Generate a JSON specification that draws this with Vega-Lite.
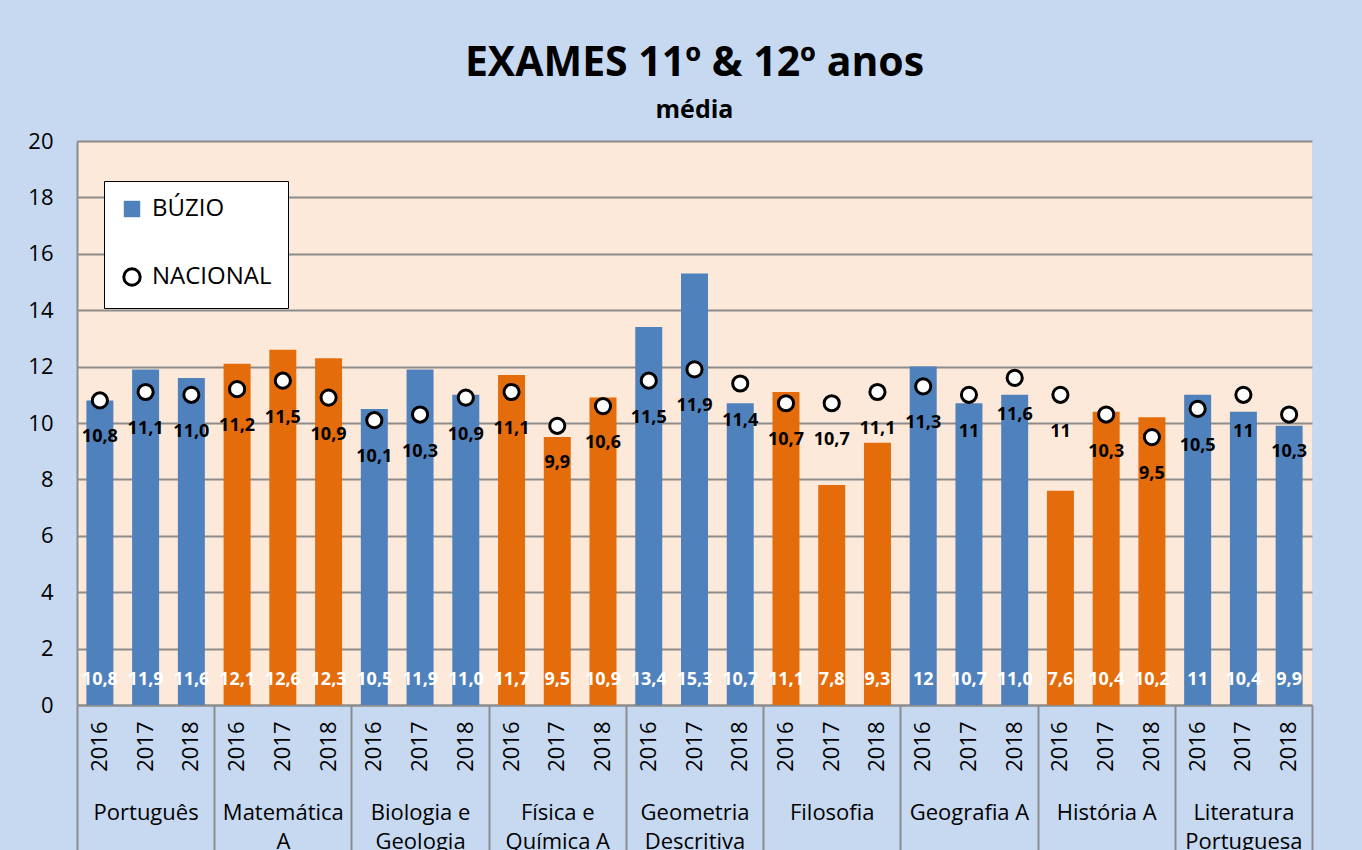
{
  "$schema": "https://vega.github.io/schema/vega-lite/v6.json",
  "width": 1235,
  "height": 564,
  "autosize": {"type": "none"},
  "padding": {"left": 77, "top": 141, "right": 50, "bottom": 145},
  "background": "#C6D9F1",
  "config": {
    "font": "Open Sans",
    "view": {"fill": "#FDE9D9", "stroke": null}
  },
  "title": {
    "text": "EXAMES 11º & 12º anos",
    "subtitle": "média",
    "fontSize": 41,
    "fontWeight": "bold",
    "color": "#000000",
    "subtitleFontSize": 25,
    "subtitleFontWeight": "bold",
    "subtitleColor": "#000000",
    "subtitlePadding": 13,
    "anchor": "middle",
    "frame": "group",
    "offset": 6
  },
  "data": {
    "values": [
      {"subject": "Português", "key": "Português 2016", "buzio": 10.8, "nacional": 10.8, "bl": "10,8", "nl": "10,8"},
      {"subject": "Português", "key": "Português 2017", "buzio": 11.9, "nacional": 11.1, "bl": "11,9", "nl": "11,1"},
      {"subject": "Português", "key": "Português 2018", "buzio": 11.6, "nacional": 11.0, "bl": "11,6", "nl": "11,0"},
      {"subject": "Matemática A", "key": "Matemática A 2016", "buzio": 12.1, "nacional": 11.2, "bl": "12,1", "nl": "11,2"},
      {"subject": "Matemática A", "key": "Matemática A 2017", "buzio": 12.6, "nacional": 11.5, "bl": "12,6", "nl": "11,5"},
      {"subject": "Matemática A", "key": "Matemática A 2018", "buzio": 12.3, "nacional": 10.9, "bl": "12,3", "nl": "10,9"},
      {"subject": "Biologia e Geologia", "key": "Biologia e Geologia 2016", "buzio": 10.5, "nacional": 10.1, "bl": "10,5", "nl": "10,1"},
      {"subject": "Biologia e Geologia", "key": "Biologia e Geologia 2017", "buzio": 11.9, "nacional": 10.3, "bl": "11,9", "nl": "10,3"},
      {"subject": "Biologia e Geologia", "key": "Biologia e Geologia 2018", "buzio": 11.0, "nacional": 10.9, "bl": "11,0", "nl": "10,9"},
      {"subject": "Física e Química A", "key": "Física e Química A 2016", "buzio": 11.7, "nacional": 11.1, "bl": "11,7", "nl": "11,1"},
      {"subject": "Física e Química A", "key": "Física e Química A 2017", "buzio": 9.5, "nacional": 9.9, "bl": "9,5", "nl": "9,9"},
      {"subject": "Física e Química A", "key": "Física e Química A 2018", "buzio": 10.9, "nacional": 10.6, "bl": "10,9", "nl": "10,6"},
      {"subject": "Geometria Descritiva", "key": "Geometria Descritiva 2016", "buzio": 13.4, "nacional": 11.5, "bl": "13,4", "nl": "11,5"},
      {"subject": "Geometria Descritiva", "key": "Geometria Descritiva 2017", "buzio": 15.3, "nacional": 11.9, "bl": "15,3", "nl": "11,9"},
      {"subject": "Geometria Descritiva", "key": "Geometria Descritiva 2018", "buzio": 10.7, "nacional": 11.4, "bl": "10,7", "nl": "11,4"},
      {"subject": "Filosofia", "key": "Filosofia 2016", "buzio": 11.1, "nacional": 10.7, "bl": "11,1", "nl": "10,7"},
      {"subject": "Filosofia", "key": "Filosofia 2017", "buzio": 7.8, "nacional": 10.7, "bl": "7,8", "nl": "10,7"},
      {"subject": "Filosofia", "key": "Filosofia 2018", "buzio": 9.3, "nacional": 11.1, "bl": "9,3", "nl": "11,1"},
      {"subject": "Geografia A", "key": "Geografia A 2016", "buzio": 12.0, "nacional": 11.3, "bl": "12", "nl": "11,3"},
      {"subject": "Geografia A", "key": "Geografia A 2017", "buzio": 10.7, "nacional": 11.0, "bl": "10,7", "nl": "11"},
      {"subject": "Geografia A", "key": "Geografia A 2018", "buzio": 11.0, "nacional": 11.6, "bl": "11,0", "nl": "11,6"},
      {"subject": "História A", "key": "História A 2016", "buzio": 7.6, "nacional": 11.0, "bl": "7,6", "nl": "11"},
      {"subject": "História A", "key": "História A 2017", "buzio": 10.4, "nacional": 10.3, "bl": "10,4", "nl": "10,3"},
      {"subject": "História A", "key": "História A 2018", "buzio": 10.2, "nacional": 9.5, "bl": "10,2", "nl": "9,5"},
      {"subject": "Literatura Portuguesa", "key": "Literatura Portuguesa 2016", "buzio": 11.0, "nacional": 10.5, "bl": "11", "nl": "10,5"},
      {"subject": "Literatura Portuguesa", "key": "Literatura Portuguesa 2017", "buzio": 10.4, "nacional": 11.0, "bl": "10,4", "nl": "11"},
      {"subject": "Literatura Portuguesa", "key": "Literatura Portuguesa 2018", "buzio": 9.9, "nacional": 10.3, "bl": "9,9", "nl": "10,3"}
    ]
  },
  "layer": [
    {
      "encoding": {
        "x": {
          "field": "key",
          "type": "nominal",
          "sort": null,
          "scale": {"paddingInner": 0.41, "paddingOuter": 0.205},
          "axis": {
            "title": null,
            "orient": "bottom",
            "labelExpr": "slice(datum.value, -4)",
            "labelAngle": 270,
            "labelFontSize": 22,
            "labelColor": "#000000",
            "labelPadding": 16,
            "ticks": false,
            "domain": true,
            "domainColor": "#8C8C8C",
            "domainWidth": 2
          }
        }
      },
      "layer": [
        {
          "mark": {"type": "bar"},
          "encoding": {
            "y": {
              "field": "buzio",
              "type": "quantitative",
              "scale": {"domain": [0, 20], "nice": false},
              "axis": {
                "title": null,
                "values": [0, 2, 4, 6, 8, 10, 12, 14, 16, 18, 20],
                "labelFontSize": 22,
                "labelColor": "#000000",
                "labelPadding": 24,
                "ticks": false,
                "grid": true,
                "gridColor": "#8C8C8C",
                "gridWidth": 2,
                "domain": true,
                "domainColor": "#8C8C8C",
                "domainWidth": 2
              }
            },
            "color": {
              "field": "subject",
              "type": "nominal",
              "sort": null,
              "scale": {
                "domain": ["Português", "Matemática A", "Biologia e Geologia", "Física e Química A", "Geometria Descritiva", "Filosofia", "Geografia A", "História A", "Literatura Portuguesa"],
                "range": ["#4F81BD", "#E46C0A", "#4F81BD", "#E46C0A", "#4F81BD", "#E46C0A", "#4F81BD", "#E46C0A", "#4F81BD"]
              },
              "legend": null
            }
          }
        },
        {
          "mark": {"type": "text", "color": "#FFFFFF", "fontWeight": "bold", "fontSize": 18, "baseline": "middle", "dy": -25},
          "encoding": {
            "y": {"datum": 0, "type": "quantitative"},
            "text": {"field": "bl"}
          }
        },
        {
          "mark": {"type": "point", "filled": true, "strokeWidth": 3, "size": 230, "opacity": 1},
          "encoding": {
            "y": {"field": "nacional", "type": "quantitative"},
            "shape": {
              "datum": "NACIONAL",
              "type": "nominal",
              "scale": {"domain": ["BÚZIO", "NACIONAL"], "range": ["square", "circle"]},
              "legend": {
                "title": null,
                "orient": "none",
                "legendX": 27,
                "legendY": 40,
                "fillColor": "#FFFFFF",
                "strokeColor": "#000000",
                "padding": 16,
                "rowPadding": 38,
                "labelFontSize": 24,
                "labelColor": "#000000",
                "labelOffset": 8,
                "symbolSize": 270,
                "symbolStrokeWidth": 3,
                "symbolOpacity": 1
              }
            },
            "fill": {
              "datum": "NACIONAL",
              "type": "nominal",
              "scale": {"domain": ["BÚZIO", "NACIONAL"], "range": ["#4F81BD", "#FFFFFF"]},
              "legend": {"title": null}
            },
            "stroke": {
              "datum": "NACIONAL",
              "type": "nominal",
              "scale": {"domain": ["BÚZIO", "NACIONAL"], "range": ["transparent", "#000000"]},
              "legend": {"title": null}
            }
          }
        },
        {
          "mark": {"type": "text", "color": "#000000", "fontWeight": "bold", "fontSize": 18, "baseline": "middle", "dy": 37},
          "encoding": {
            "y": {"field": "nacional", "type": "quantitative"},
            "text": {"field": "nl"}
          }
        }
      ]
    },
    {
      "mark": {"type": "point", "opacity": 0},
      "encoding": {
        "x": {
          "field": "subject",
          "type": "nominal",
          "sort": null,
          "scale": {"paddingInner": 0, "paddingOuter": 0},
          "axis": {
            "title": null,
            "orient": "bottom",
            "labelAngle": 0,
            "labelExpr": "isValid(datum.value) ? split(replace(datum.value, regexp('^(Matemática|Biologia e|Física e|Geometria|Literatura) '), '$1|'), '|') : ''",
            "labelFontSize": 22,
            "labelColor": "#000000",
            "labelLineHeight": 29,
            "labelBaseline": "top",
            "labelPadding": -48,
            "labelLimit": 200,
            "tickBand": "extent",
            "ticks": true,
            "tickSize": 145,
            "tickColor": "#8C8C8C",
            "tickWidth": 2,
            "domain": false,
            "grid": false
          }
        }
      }
    }
  ],
  "resolve": {"scale": {"x": "independent"}}
}
